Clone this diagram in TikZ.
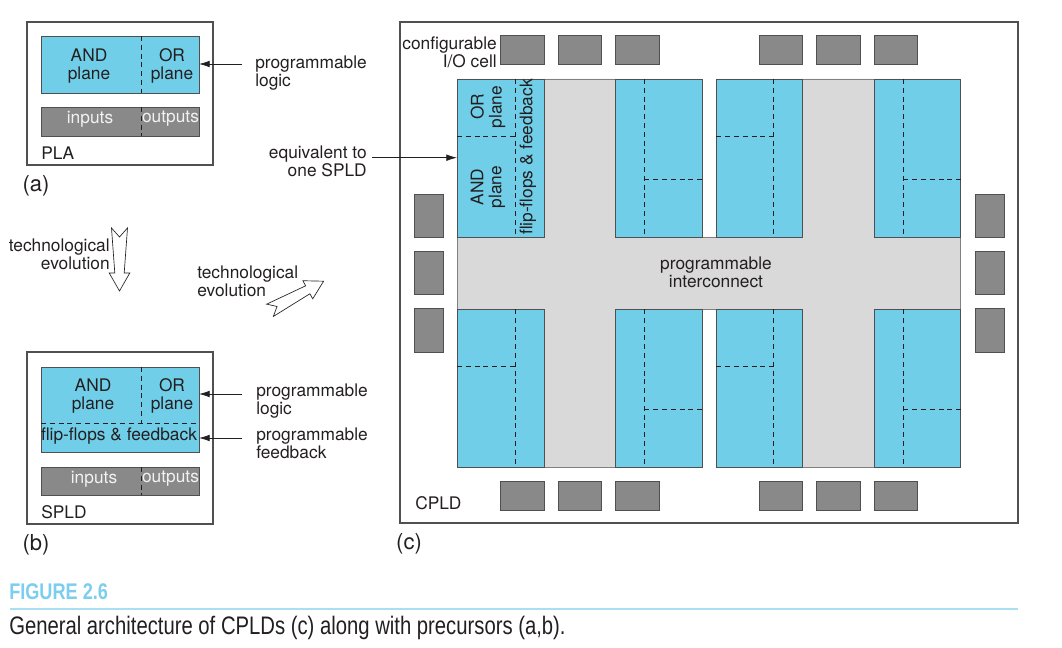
\documentclass[tikz,border=0pt]{standalone}
\usepackage{fontspec}
\setmainfont{TeX Gyre Heros}
\newfontfamily\capfont[FakeStretch=0.8]{Liberation Sans}
\usetikzlibrary{arrows.meta}

\definecolor{planeblue}{RGB}{112,206,232}
\definecolor{cellgray}{RGB}{137,137,137}
\definecolor{wiregray}{RGB}{217,217,217}
\definecolor{edgegray}{RGB}{80,80,80}
\definecolor{inkblack}{RGB}{35,31,32}
\definecolor{capblue}{RGB}{125,206,238}
\definecolor{rulblue}{RGB}{170,222,242}

\tikzset{
  frame/.style={draw=edgegray, line width=0.8pt},
  plane/.style={draw=edgegray, line width=0.6pt, fill=planeblue},
  iocell/.style={draw=edgegray, line width=0.6pt, fill=cellgray},
  fabric/.style={draw=gray, line width=0.6pt, fill=wiregray},
  split/.style={draw=inkblack, line width=0.6pt, dash pattern=on 3.8pt off 2.8pt},
  ptr/.style={draw=inkblack, line width=0.6pt, -{Latex[length=8pt,width=5pt]}},
  hollow/.style={draw=inkblack, line width=0.5pt, fill=white},
  lbl/.style={text=inkblack, font=\fontsize{13}{13.5}\selectfont, inner sep=0pt},
  sub/.style={text=inkblack, font=\fontsize{16.5}{18}\selectfont, inner sep=0pt},
  onio/.style={lbl, text=white!95!black}
}

\begin{document}
\begin{tikzpicture}[x=0.75pt,y=0.75pt,yscale=-1,xscale=1]
\useasboundingbox (0,0) rectangle (1062,648);

%Shape: Rectangle -- PLA
\draw [frame] (27,22) rectangle (213,165) ;
\draw [plane] (41,36) rectangle (199,93) ;
\draw [split] (141.7,36) -- (141.7,93) ;
\draw [iocell] (41,107) rectangle (199,136) ;
\draw [split] (141.7,107) -- (141.7,136) ;

%Shape: Rectangle -- SPLD
\draw [frame] (27,352) rectangle (213,524) ;
\draw [plane] (41,367) rectangle (199,452) ;
\draw [split] (141.7,367) -- (141.7,423) ;
\draw [split] (41,423) -- (199,423) ;
\draw [iocell] (41,467) rectangle (199,495) ;
\draw [split] (141.7,467) -- (141.7,495) ;

%Shape: Hollow arrows
\draw [hollow, shift={(119.5,228)}, rotate=90] (0,-8) -- (9,0) -- (0,8) -- (45,4.7) -- (45,10.3) -- (63,0) -- (45,-10.3) -- (45,-4.7) -- cycle ;
\draw [hollow, shift={(270,310.3)}, rotate=-28.5] (0,-7) -- (8,0) -- (0,7) -- (43,4.5) -- (43,10.3) -- (61,0) -- (43,-10.3) -- (43,-4.5) -- cycle ;

%Shape: Rectangle -- CPLD frame
\draw [frame] (400,22) rectangle (1018,523) ;
%Shape: Polygon -- programmable interconnect
\draw [fabric] (457,79) -- (702,79) -- (702,237) -- (716.3,237) -- (716.3,79) -- (960.7,79) -- (960.7,467) -- (716.3,467) -- (716.3,309) -- (702,309) -- (702,467) -- (457,467) -- cycle ;

%Shape: Rectangle -- upper logic blocks
\draw [plane] (457,79) rectangle (544,237) ;
\draw [split] (515,79) -- (515,237) ;
\draw [split] (457,136.7) -- (515,136.7) ;
\draw [plane] (615.7,79) rectangle (702,237) ;
\draw [split] (644.3,79) -- (644.3,237) ;
\draw [split] (644.3,179.3) -- (702,179.3) ;
\draw [plane] (716.3,79) rectangle (802.3,237) ;
\draw [split] (773.7,79) -- (773.7,237) ;
\draw [split] (716.3,136.3) -- (773.7,136.3) ;
\draw [plane] (874.3,79) rectangle (960.7,237) ;
\draw [split] (903.3,79) -- (903.3,237) ;
\draw [split] (903.3,179.3) -- (960.7,179.3) ;

%Shape: Rectangle -- lower logic blocks
\draw [plane] (457,309) rectangle (544,467) ;
\draw [split] (515,309) -- (515,467) ;
\draw [split] (457,366) -- (515,366) ;
\draw [plane] (615.7,309) rectangle (702,467) ;
\draw [split] (644.3,309) -- (644.3,467) ;
\draw [split] (644.3,409.3) -- (702,409.3) ;
\draw [plane] (716.3,309) rectangle (802.3,467) ;
\draw [split] (773.7,309) -- (773.7,467) ;
\draw [split] (716.3,366) -- (773.7,366) ;
\draw [plane] (874.3,309) rectangle (960.7,467) ;
\draw [split] (903.3,309) -- (903.3,467) ;
\draw [split] (903.3,409.3) -- (960.7,409.3) ;

%Shape: Rectangle -- I/O cells, top
\draw [iocell] (500.7,35.7) rectangle (544,64.3) ;
\draw [iocell] (558.3,35.7) rectangle (601.7,64.3) ;
\draw [iocell] (615.7,35.7) rectangle (659,64.3) ;
\draw [iocell] (759.3,35.7) rectangle (802.7,64.3) ;
\draw [iocell] (816.7,35.7) rectangle (860,64.3) ;
\draw [iocell] (874.3,35.7) rectangle (917.7,64.3) ;
%Shape: Rectangle -- I/O cells, bottom
\draw [iocell] (500.7,481) rectangle (544,510.3) ;
\draw [iocell] (558.3,481) rectangle (601.7,510.3) ;
\draw [iocell] (615.7,481) rectangle (659,510.3) ;
\draw [iocell] (759.3,481) rectangle (802.7,510.3) ;
\draw [iocell] (816.7,481) rectangle (860,510.3) ;
\draw [iocell] (874.3,481) rectangle (917.7,510.3) ;
%Shape: Rectangle -- I/O cells, sides
\draw [iocell] (414.3,194) rectangle (443.7,237) ;
\draw [iocell] (414.3,251) rectangle (443.7,294.3) ;
\draw [iocell] (414.3,308.7) rectangle (443.7,352) ;
\draw [iocell] (975,194) rectangle (1004,237) ;
\draw [iocell] (975,251) rectangle (1004,294.3) ;
\draw [iocell] (975,308.7) rectangle (1004,352) ;

%Connector points
\coordinate (plaTail) at (242,64) ;
\coordinate (plaTip) at (199,64) ;
\coordinate (spldTail) at (242,394) ;
\coordinate (spldTip) at (199,394) ;
\coordinate (fbTail) at (242,438) ;
\coordinate (fbTip) at (199,438) ;
\coordinate (eqTail) at (372,157.7) ;
\coordinate (eqTip) at (457,157.7) ;

%Straight Lines
\draw [ptr] (plaTail) -- (plaTip) ;
\draw [ptr] (spldTail) -- (spldTip) ;
\draw [ptr] (fbTail) -- (fbTip) ;
\draw [ptr] (eqTail) -- (eqTip) ;

% Text Node -- (a)
\draw (89,66) node (plaAnd) [lbl, align=center] {AND\\plane};
\draw (172,66) node (plaOr) [lbl, align=center] {OR\\plane};
\draw (90,119) node (plaIn) [onio] {inputs};
\draw (170.5,119) node (plaOut) [onio] {outputs};
\draw (41,153) node (plaName) [lbl, anchor=west] {PLA};
\draw (36,186) node (capA) [sub] {(a)};
\draw (255,73) node (plaLogic) [lbl, anchor=west, align=left] {programmable\\logic};

% Text Node -- evolution
\draw (110,254.5) node (evoDown) [lbl, anchor=east, align=right] {technological\\evolution};
\draw (197,281) node (evoUp) [lbl, anchor=west, align=left] {technological\\evolution};

% Text Node -- (b)
\draw (93,396) node (spldAnd) [lbl, align=center] {AND\\plane};
\draw (172,396) node (spldOr) [lbl, align=center] {OR\\plane};
\draw (119,436) node (spldFf) [lbl] {flip-flops \& feedback};
\draw (94,479) node (spldIn) [onio] {inputs};
\draw (170.5,479) node (spldOut) [onio] {outputs};
\draw (41,512) node (spldName) [lbl, anchor=west] {SPLD};
\draw (36,545) node (capB) [sub] {(b)};
\draw (256,401.5) node (spldLogic) [lbl, anchor=west, align=left] {programmable\\logic};
\draw (256,443.5) node (spldFeed) [lbl, anchor=west, align=left] {programmable\\feedback};

% Text Node -- (c)
\draw (497,52) node (ioName) [lbl, anchor=east, align=right] {configurable\\I/O cell};
\draw (367,161) node (eqName) [lbl, anchor=east, align=right] {equivalent to\\one SPLD};
\draw (488,107) node (blkOr) [lbl, align=center, rotate=90] {OR\\plane};
\draw (488,187) node (blkAnd) [lbl, align=center, rotate=90] {AND\\plane};
\draw (528,157) node (blkFf) [lbl, rotate=90] {flip-flops \& feedback};
\draw (716,272) node (pia) [lbl, align=center] {programmable\\interconnect};
\draw (415,503) node (cpldName) [lbl, anchor=west] {CPLD};
\draw (409,544) node (capC) [sub] {(c)};

% Caption
\draw (9,592) node (figNo) [anchor=west, inner sep=0pt, text=capblue, font=\capfont\bfseries\fontsize{17}{19}\selectfont] {FIGURE 2.6};
\draw [rulblue, line width=1.2pt] (10,609) -- (1018,609) ;
\draw (9,628) node (figText) [anchor=west, inner sep=0pt, text=inkblack, font=\capfont\fontsize{19}{21}\selectfont] {General architecture of CPLDs (c) along with precursors (a,b).};
\end{tikzpicture}
\end{document}
